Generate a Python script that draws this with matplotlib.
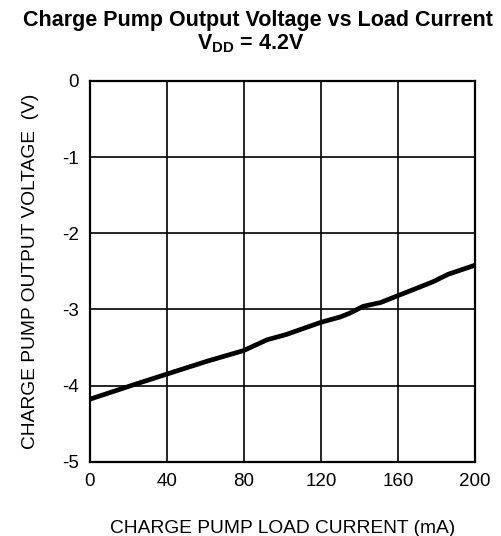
import matplotlib
matplotlib.use("Agg")
import matplotlib.pyplot as plt

# charge pump load current (mA) and output voltage (V)
load_current = [0, 24, 40, 61, 80, 92, 102, 120, 130, 135, 142, 151, 160, 178, 186, 200]
output_voltage = [-4.18, -3.98, -3.85, -3.68, -3.54, -3.40, -3.33, -3.17, -3.10, -3.05,
                  -2.96, -2.91, -2.82, -2.64, -2.54, -2.42]
x_ticks = [0, 40, 80, 120, 160, 200]
y_ticks = [-5, -4, -3, -2, -1, 0]

plt.rcParams['font.family'] = ['Liberation Sans', 'DejaVu Sans']
plt.rcParams['mathtext.fontset'] = 'custom'
plt.rcParams['mathtext.rm'] = 'Liberation Sans:bold'
plt.rcParams['mathtext.bf'] = 'Liberation Sans:bold'

fig = plt.figure(figsize=(5.02, 5.36), dpi=100)
ax = fig.add_axes([0.1787, 0.1386, 0.7673, 0.7104])

ax.plot(load_current, output_voltage, color='black', lw=3.4, solid_capstyle='butt', zorder=3)

ax.set_xlim(0, 200)
ax.set_ylim(-5, 0)
ax.set_xticks(x_ticks)
ax.set_yticks(y_ticks)
ax.set_yticklabels([str(v) for v in y_ticks])
ax.grid(True, color='black', lw=1.2)
ax.tick_params(length=0, labelsize=13.5, pad=8)
for s in ax.spines.values():
	s.set_linewidth(1.6)

ax.set_xlabel('CHARGE PUMP LOAD CURRENT (mA)', fontsize=13.8, labelpad=22)
ax.set_ylabel('CHARGE PUMP OUTPUT VOLTAGE  (V)', fontsize=13.8, labelpad=16)

fig.text(0.514, 0.982, 'Charge Pump Output Voltage vs Load Current', ha='center', va='top',
         fontsize=15.5, fontweight='bold')
fig.text(0.5, 0.94, r'$\mathbf{V_{DD}}$ = 4.2V', ha='center', va='top',
         fontsize=15.5, fontweight='bold')

fig.savefig('out.png', dpi=100)
